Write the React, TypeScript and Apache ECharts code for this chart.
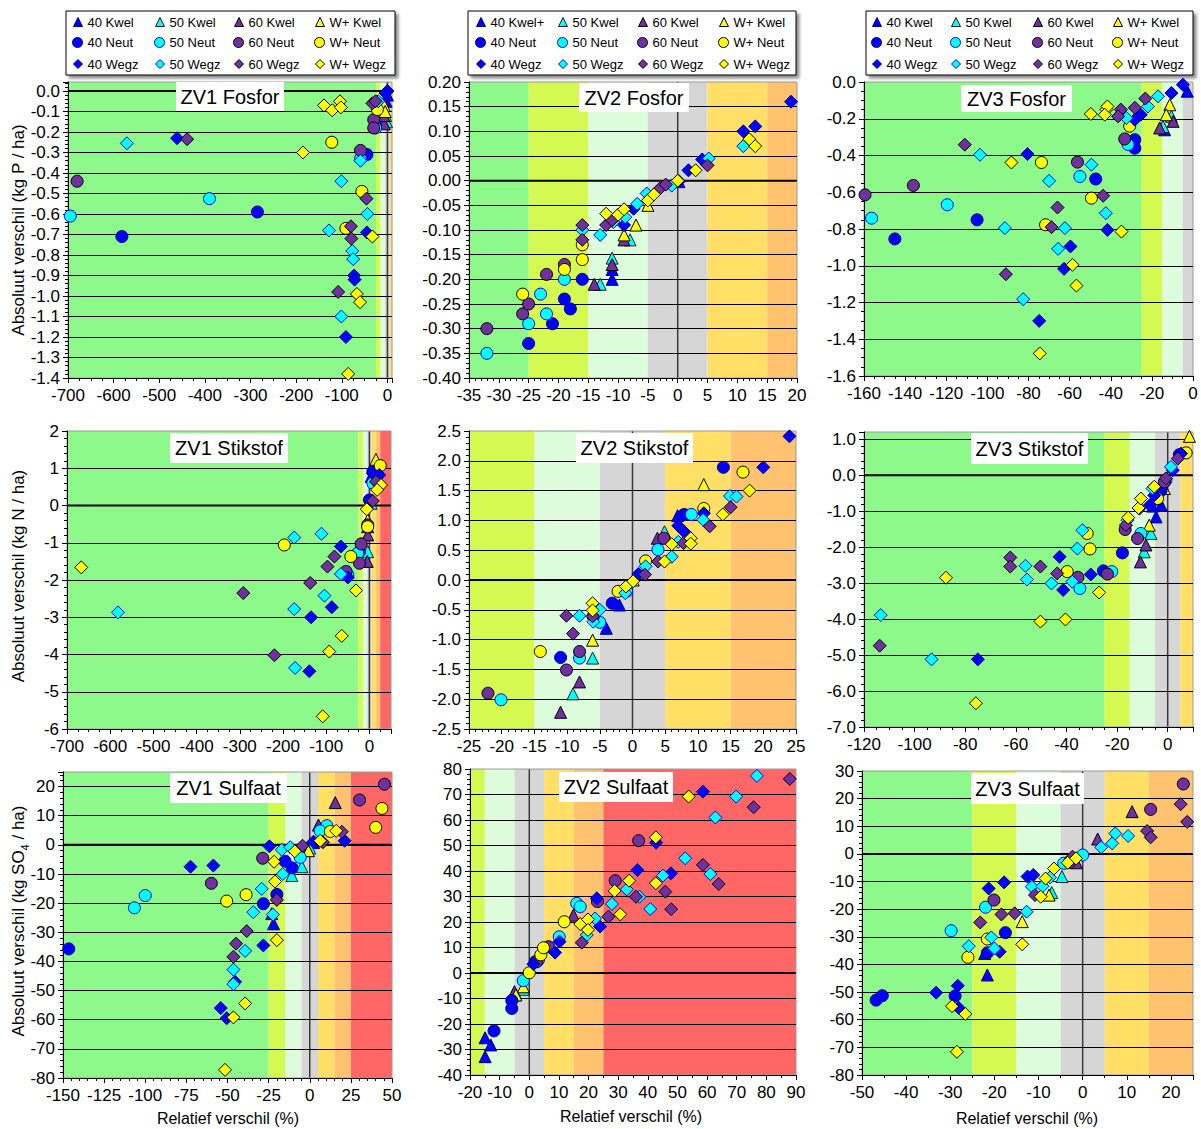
import React, { useEffect, useRef } from "react";
import * as echarts from "echarts";

const FONT = "'Liberation Sans', Arial, Helvetica, sans-serif";

type Pts = number[][];

// ---------- DATA: [relatief verschil (%), absoluut verschil] ----------
// k = Kwel (triangle), n = Neut (circle), w = Wegz (diamond); 40, 50, 60, W = W+
const zv1Fosfor = {
  k40: [[0, -0.02], [-3, -0.05]],
  k50: [[-4, -0.12], [-2, -0.15]],
  k60: [[-7, -0.16], [-8, -0.12]],
  kW: [[-7, -0.07], [-5, -0.1]],
  n40: [[-582, -0.71], [-285, -0.59], [-45, -0.31], [-26, -0.17]],
  n50: [[-695, -0.61], [-390, -0.525], [-26, -0.18], [-59, -0.33]],
  n60: [[-680, -0.44], [-59, -0.29], [-30, -0.14], [-30, -0.18]],
  nW: [[-122, -0.25], [-56, -0.49], [-91, -0.67], [-22, -0.09]],
  w40: [[-461, -0.23], [-45, -0.69], [-73, -0.9], [-72, -0.92], [-91, -1.2], [0, 0], [-4, -0.01]],
  w50: [[-571, -0.255], [-101, -0.44], [-128, -0.68], [-77, -0.78], [-75, -0.82], [-44, -0.6], [-101, -1.1], [-59, -0.34], [-20, -0.05]],
  w60: [[-439, -0.235], [-80, -0.66], [-79, -0.72], [-46, -0.525], [-108, -0.98], [-33, -0.06], [-26, -0.05]],
  wW: [[-139, -0.07], [-121, -0.094], [-104, -0.05], [-102, -0.08], [-185, -0.3], [-86, -1.38], [-67, -0.99], [-60, -1.03], [-33, -0.71]],
};

const zv2Fosfor = {
  k40: [[-11, -0.2], [-11, -0.18], [0.2, -0.002]],
  k50: [[-11, -0.157], [-13, -0.21], [-8, -0.12]],
  k60: [[-14, -0.21], [-11, -0.17], [-9, -0.12]],
  kW: [[-9, -0.11], [-7, -0.09], [-5, -0.05]],
  n40: [[-25, -0.33], [-21, -0.29], [-19, -0.24], [-18, -0.26], [-16, -0.2]],
  n50: [[-32, -0.35], [-25, -0.29], [-23, -0.23], [-22, -0.27], [-19, -0.2]],
  n60: [[-32, -0.3], [-26, -0.27], [-25, -0.25], [-22, -0.19], [-19, -0.17]],
  nW: [[-26, -0.23], [-19, -0.18], [-16, -0.16], [-16, -0.13]],
  w40: [[-9, -0.09], [-7.4, -0.057], [0.2, -0.001], [1.8, 0.021], [4.1, 0.043], [11, 0.1], [13, 0.11], [19, 0.16]],
  w50: [[-16, -0.1], [-13, -0.11], [-10.8, -0.084], [-8.8, -0.074], [-6.8, -0.047], [-5.2, -0.026], [-1, -0.01], [5.2, 0.045], [11, 0.07]],
  w60: [[-16, -0.09], [-16, -0.12], [-12, -0.09], [-11, -0.08], [-3, -0.016], [-2, -0.008], [5, 0.031]],
  wW: [[-12, -0.067], [-10, -0.069], [-9, -0.058], [-5, -0.04], [-4, -0.028], [0, 0], [3, 0.021], [12, 0.084], [13, 0.07]],
};

const zv3Fosfor = {
  k40: [[-2.8, -0.05], [-13.8, -0.26]],
  k50: [[-14.6, -0.242], [-10.5, -0.187]],
  k60: [[-16.2, -0.25], [-9.7, -0.214]],
  kW: [[-11.3, -0.124], [-13, -0.178]],
  n40: [[-145, -0.854], [-105, -0.75], [-47.3, -0.528], [-28.3, -0.314], [-28.3, -0.36]],
  n50: [[-156.3, -0.741], [-119.5, -0.668], [-55, -0.514], [-31.6, -0.34]],
  n60: [[-159.5, -0.614], [-136, -0.563], [-56.2, -0.436], [-33.2, -0.31]],
  nW: [[-73.7, -0.438], [-49.4, -0.632], [-71.7, -0.777], [-30.8, -0.24]],
  w40: [[-80.5, -0.392], [-59.6, -0.895], [-62.7, -1.017], [-74.8, -1.3], [-41.6, -0.805], [-25.4, -0.178], [-10.5, -0.06], [-4.9, -0.015], [-28.3, -0.205]],
  w50: [[-103.6, -0.396], [-70, -0.538], [-91.5, -0.795], [-62.3, -0.795], [-65.6, -0.908], [-82.6, -1.182], [-49.4, -0.45], [-42.4, -0.714], [-17, -0.078], [-21.9, -0.133], [-32.4, -0.196]],
  w60: [[-111, -0.341], [-65.9, -0.683], [-68.8, -0.79], [-91, -1.046], [-43.7, -0.619], [-35.1, -0.15], [-28.3, -0.14], [-23.2, -0.09], [-36.4, -0.187]],
  wW: [[-88.3, -0.438], [-49.7, -0.174], [-42.1, -0.15], [-41.6, -0.133], [-34.8, -0.814], [-58.6, -0.995], [-56.7, -1.108], [-74.5, -1.477], [-42.9, -0.178]],
};

const zv1Stikstof = {
  k40: [[4, 0.78], [-4, -0.57]],
  k50: [[-4, -1.24], [4, 0.06]],
  k60: [[-5, -1.5], [-4, -0.79]],
  kW: [[15, 1.24], [-4, -0.39]],
  n40: [[-23, -1.24], [8, 0.91], [0, 0.15]],
  n50: [[-27, -1.28], [-50, -1.86], [8, 0.6]],
  n60: [[-19, -1.03], [-23, -1.55], [-54, -1.77], [-4, -0.52]],
  nW: [[-197, -1.06], [-43, -1.37], [25, 1.07], [-4, -0.57]],
  w40: [[-135, -3], [-87, -2.73], [-66, -1.1], [-139, -4.45], [-50, -1.93], [8, 0.86], [23, 0.82]],
  w50: [[-582, -2.87], [-174, -0.86], [-111, -0.76], [-174, -2.78], [-104, -2.42], [-172, -4.36], [-66, -1.84]],
  w60: [[-292, -2.35], [-137, -2.08], [-97, -1.64], [-81, -1.37], [-220, -4.02], [8, 0.12], [15, 0.64]],
  wW: [[-667, -1.66], [-31, -2.28], [-64, -3.5], [-93, -3.92], [-108, -5.66], [-6, -0.1], [27, 0.55], [18, 0.42]],
};

const zv2Stikstof = {
  k40: [[-4, -0.81], [-2, -0.42], [6.9, 1.08]],
  k50: [[-9.1, -1.91], [-6.1, -1.31], [4.9, 0.81]],
  k60: [[-11, -2.22], [-8.1, -1.71], [3.8, 0.7]],
  kW: [[-6.1, -1.01], [10.9, 1.6], [0.1, 0]],
  n40: [[-11, -1.3], [-3.1, -0.39], [7.9, 1.1], [13.9, 1.89]],
  n50: [[-20.1, -2.01], [-8.1, -1.31], [-5, -0.71], [3.9, 0.51], [9, 1.1], [-0.9, -0.19]],
  n60: [[-22.1, -1.9], [-10.1, -1.51], [-8.1, -1.2], [4.8, 0.7], [-6, -0.61]],
  nW: [[-14.1, -1.2], [-2.2, -0.19], [2, 0.32], [10.9, 1.2], [16.9, 1.81]],
  w40: [[7, 0.91], [7.9, 0.81], [10.9, 1.12], [20, 1.89], [24, 2.41], [0.9, 0.1]],
  w50: [[-8.1, -0.6], [-6, -0.7], [-5, -0.5], [-1.1, -0.22], [2, 0.23], [6, 0.39], [10.8, 1.01], [14.9, 1.41], [15.9, 1.4], [7, 0.64]],
  w60: [[-10.1, -0.6], [-9.1, -0.9], [-6.1, -0.61], [1.9, 0.09], [3.9, 0.31], [7.8, 0.62], [11.8, 0.9], [15, 1.22]],
  wW: [[-6.1, -0.39], [-6.1, -0.51], [-1, -0.11], [0.1, -0.02], [4.9, 0.31], [6, 0.6], [8.9, 0.7], [8.9, 0.61], [13.8, 1.1], [17.9, 1.5]],
};

const zv3Stikstof = {
  k40: [[-4.6, -1.16], [-6, -0.86], [-2.6, -0.83]],
  k50: [[-6.6, -1.62], [-9.3, -2.13]],
  k60: [[-8.6, -1.94], [-10.8, -2.41]],
  kW: [[8.6, 1.08], [-7.3, -1.39], [-1.3, -0.37]],
  n40: [[-25.4, -2.66], [-17.9, -2.16], [4.6, 0.57], [-2.6, -0.42]],
  n50: [[-34.7, -3.15], [-22.1, -2.68], [-10.6, -1.62], [-0.7, -0.14]],
  n60: [[-35.5, -2.84], [-23.8, -2.75], [-16.8, -1.51], [-11.9, -1.76], [-1.3, -0.19]],
  nW: [[-31.8, -1.62], [-30.7, -2.05], [-39.7, -2.68], [7.3, 0.62], [-4, -0.65]],
  w40: [[-75, -5.12], [-42.7, -2.27], [-41.3, -3.19], [-30.4, -2.76], [-7, -0.83], [2, 0.14], [5.3, 0.6], [-5.3, -0.56]],
  w50: [[-113.4, -3.89], [-93.3, -5.12], [-56.2, -2.52], [-55.6, -2.9], [-45.9, -3.01], [-37.7, -2.96], [-35.7, -2.04], [-33.7, -1.53], [-15.9, -1.25], [-6, -0.37], [1.3, 0.23]],
  w60: [[-113.8, -4.74], [-62.2, -2.29], [-62.2, -2.54], [-50.3, -2.54], [-43.7, -2.73], [-16.5, -1.39], [-11.2, -0.93], [-0.7, -0.09], [4, 0.46]],
  wW: [[-87.6, -2.85], [-75.8, -6.34], [-50.3, -4.07], [-40.4, -4.01], [-27.1, -3.26], [-15.6, -1.18], [-11.5, -0.91], [-10.6, -0.65], [-5.3, -0.32]],
};

const zv1Sulfaat = {
  k40: [[-22, -27.1], [-23.1, -23.6], [2.3, 0.8]],
  k50: [[-10.9, -10.5], [-4.8, -7.5], [0, -1.1]],
  k60: [[15.5, 14.5], [5.3, 6.8], [-1.8, -1.2]],
  kW: [[6.3, 2], [-0.8, -2]],
  n40: [[-146.5, -35.7], [-28.2, -20.2], [-20, -17], [-10.7, -7.9], [-15, -5.6]],
  n50: [[-106.6, -21.6], [-100, -17.4], [10.4, 6.6], [6.3, 4.8], [-5.8, -4.3]],
  n60: [[-59.8, -13.2], [-28.6, -4.6], [30.3, 15.4], [45.4, 20.8]],
  nW: [[-50.5, -19.3], [-38.7, -17.1], [12.5, 4.6], [40.1, 6], [43.9, 12.5]],
  w40: [[-72.5, -7.5], [-58.6, -7.1], [-24.5, -0.5], [-28.2, -34.5], [-54.1, -56], [-50.5, -59.5], [-45.4, -47], [21.2, 1.4], [2.3, 1.1]],
  w50: [[-29.2, -15.1], [-34.3, -23.1], [-39.3, -36.4], [-46.4, -42.8], [-46.4, -47.8], [-22.4, -23.9], [-16.4, -10], [-17, -1.7], [-11.9, -0.8]],
  w60: [[-44.8, -33.9], [-46.4, -38.4], [-38.3, -29.6], [-20, -18.9], [-4.4, -0.3], [8, 0.9], [19.5, 4.5]],
  wW: [[-21.7, -5.8], [-21.1, -12.6], [-20, -32.7], [-39.3, -54.4], [-46.4, -59.2], [-51.5, -77.2], [-9.1, -2.2], [6.3, 1.4], [16.1, 4.8]],
};

const zv2Sulfaat = {
  k40: [[-14.9, -25.4], [-13, -28.2], [-14.9, -32.8]],
  k50: [[-2, -6.4], [-4.8, -8.6]],
  k60: [[14.9, 22.7], [-5, -7.3]],
  kW: [[-4.5, -8.6], [-2, -5.4]],
  n40: [[-11.9, -22.7], [-5.9, -10.8], [-5.9, -13.9], [2, 4.4]],
  n50: [[-2, -3], [10.1, 14.2], [16, 27.3], [17.2, 26], [3.1, 5.1]],
  n60: [[2.5, 4.4], [23, 28], [29, 36.2], [36.9, 51.9], [6.5, 10.3]],
  nW: [[0, 0.1], [3.9, 7.1], [4.8, 9.9], [11.8, 20.1]],
  w40: [[8.7, 8], [10.2, 12.3], [22.8, 29.3], [23.9, 18.2], [36.5, 40.4], [42.8, 51.1], [47.8, 39.1], [58.6, 71.1], [1.4, 3.5]],
  w50: [[19.4, 14.9], [22.2, 21.4], [27.9, 27.1], [32.9, 32.8], [37.2, 29.9], [40.8, 25.1], [45.1, 38.2], [52.6, 45], [61.1, 38.8], [62.8, 61], [69.8, 69.2], [76.8, 77.3]],
  w60: [[17.7, 11.9], [26.7, 22.1], [36, 29.9], [45.9, 31.9], [47.9, 25], [58.6, 42.4], [63.9, 34.9], [75.7, 65], [87.9, 76.1]],
  wW: [[17.2, 19.2], [19.8, 21], [19.8, 16.9], [28.8, 32.2], [30.7, 23], [33.7, 36.2], [42.7, 53.2], [42.7, 35.2], [53.8, 69.2]],
};

const zv3Sulfaat = {
  k40: [[-21.6, -43.8], [-22.2, -36]],
  k50: [[-4.7, -8.2], [-7, -14]],
  k60: [[11.2, 15.3], [3.4, 5.4], [-1.4, -3.2]],
  kW: [[-13.7, -24.5], [-7.6, -14.9]],
  n40: [[-46.8, -52.9], [-45.4, -51.3], [-28.9, -51.4], [-21.6, -35.8], [-17.5, -28.5]],
  n50: [[-29.8, -27.8], [-22, -19.3], [0, -0.4], [-4.3, -3.4]],
  n60: [[-20.1, -16.7], [15.4, 16.1], [22.8, 25.3], [-3, -3.1]],
  nW: [[-26, -37.4], [-21.6, -30.8]],
  w40: [[-33.2, -50.2], [-28.3, -47.7], [-28.1, -55.7], [-21.3, -12.5], [-17.8, -10.3], [-18.8, -35.4], [-12.5, -8.2], [-11.2, -7.6]],
  w50: [[-25.8, -33.4], [-20.7, -30.2], [-20, -34.2], [-12.7, -20.9], [-11.5, -11.9], [-9.1, -11.7], [-7.4, -8.5], [4.2, 2.4], [6.7, 3.8], [7.4, 7.4], [10.3, 6.5]],
  w60: [[-23.2, -24.8], [-18.4, -21.9], [-15.4, -21.5], [-10.8, -14.9], [-2.3, -1], [14.6, 8.3], [15.4, 6], [22.2, 18], [23.7, 11.6]],
  wW: [[-29.6, -55.1], [-26.6, -57.9], [-28.5, -71.6], [-13.7, -32.7], [-9.5, -15.5], [-8.4, -8.9], [-6.5, -5.3], [-3.4, -3.2], [-1.5, -1.6]],
};

// class boundaries of the relative difference (%) and their colours
const BAND_EDGES = [-1e6, -25, -15, -5, 5, 15, 25, 1e6];
const BAND_COLORS = ["#8CF98A", "#D4F950", "#DCFCDC", "#D6D6D6", "#FFDF66", "#FFC370", "#FF6666"];

const GROUPS = [
  { key: "40", label: "40" },
  { key: "50", label: "50" },
  { key: "60", label: "60" },
  { key: "W", label: "W+" },
];
const SHAPES = [
  { key: "k", word: "Kwel", symbol: "triangle", size: 12 },
  { key: "n", word: "Neut", symbol: "circle", size: 12 },
  { key: "w", word: "Wegz", symbol: "diamond", size: 13 },
];
const FILL: Record<string, string> = { "40": "#0000FF", "50": "#00FFFF", "60": "#7030A0", W: "#FFFF00" };
const border = (g: string, s: string) =>
  g === "40" ? "#000090" : g === "50" ? (s === "k" ? "#202020" : "#0000FF") : "#000000";

const PANELS = [
  { title: "ZV1 Fosfor", data: zv1Fosfor, box: [68, 82, 392, 378], xr: [-700, 10, 100, 4], yr: [-1.4, 0.044, 0.1, 5], yDec: 1, tb: [176, 82, 108, 29], plus: false },
  { title: "ZV2 Fosfor", data: zv2Fosfor, box: [469, 82, 797, 378], xr: [-35, 20, 5, 5], yr: [-0.4, 0.2, 0.05, 5], yDec: 2, tb: [579, 83, 110, 29], plus: true },
  { title: "ZV3 Fosfor", data: zv3Fosfor, box: [864, 82, 1193, 376], xr: [-160, 0, 20, 4], yr: [-1.6, 0, 0.2, 4], yDec: 1, tb: [961, 85, 111, 27], plus: false },
  { title: "ZV1 Stikstof", data: zv1Stikstof, box: [67, 431, 391, 729], xr: [-700, 50, 100, 4], yr: [-6, 2, 1, 5], yDec: 0, tb: [170, 433, 118, 30], plus: false },
  { title: "ZV2 Stikstof", data: zv2Stikstof, box: [469, 431, 796, 729], xr: [-25, 25, 5, 5], yr: [-2.5, 2.5, 0.5, 5], yDec: 1, tb: [576, 433, 117, 30], plus: false },
  { title: "ZV3 Stikstof", data: zv3Stikstof, box: [864, 432, 1193, 727], xr: [-120, 10, 20, 4], yr: [-7, 1.2, 1, 5], yDec: 1, tb: [971, 433, 117, 31], plus: false },
  { title: "ZV1 Sulfaat", data: zv1Sulfaat, box: [63, 772, 392, 1078], xr: [-150, 50, 25, 5], yr: [-80, 25, 10, 5], yDec: 0, tb: [170, 773, 117, 30], plus: false },
  { title: "ZV2 Sulfaat", data: zv2Sulfaat, box: [470, 769, 796, 1075], xr: [-20, 90, 10, 2], yr: [-40, 80, 10, 5], yDec: 0, tb: [559, 772, 114, 30], plus: false },
  { title: "ZV3 Sulfaat", data: zv3Sulfaat, box: [862, 771, 1193, 1075], xr: [-50, 25, 10, 2], yr: [-80, 30, 10, 5], yDec: 0, tb: [971, 773, 113, 31], plus: false },
];

// legend layout
const LEGEND_BOXES = [
  [66, 11, 329, 64],
  [468, 11, 328, 64],
  [866, 11, 327, 64],
];
const LEGEND_TEXT_X = [
  [86, 168, 247, 328],
  [489, 571, 651, 732],
  [885, 964, 1046, 1126],
];
const LEGEND_ROW_Y = [23, 43.5, 65];

const Y_TITLES = [
  { y: 230, text: "Absoluut verschil (kg P / ha)" },
  { y: 576, text: "Absoluut verschil (kg N / ha)" },
];
const X_TITLES = [
  [228, 1118],
  [631, 1116],
  [1027, 1118],
];

const seriesName = (g: { key: string; label: string }, s: { word: string }, plus: boolean) =>
  `${g.label} ${s.word}${plus && g.key === "40" && s.word === "Kwel" ? "+" : ""}`;

function fmt(interval: number, dec: number) {
  return (v: number) => {
    const k = Math.round(v / interval);
    if (Math.abs(k * interval - v) > interval * 1e-6) return "";
    let r = k * interval;
    if (Math.abs(r) < 1e-9) r = 0;
    return r.toFixed(dec);
  };
}

function buildOption() {
  const grid: any[] = [];
  const xAxis: any[] = [];
  const yAxis: any[] = [];
  const series: any[] = [];
  const graphic: any[] = [];
  const legend: any[] = [];

  PANELS.forEach((p, i) => {
    const [l, t, r, b] = p.box;
    const [xmin, xmax, xint, xminor] = p.xr;
    const [ymin, ymax, yint, yminor] = p.yr;
    grid.push({ left: l, top: t, width: r - l, height: b - t, show: true, borderColor: "#9a9a9a", borderWidth: 1, backgroundColor: "transparent", containLabel: false });
    const common = {
      gridIndex: i,
      type: "value",
      axisLine: { show: true, onZero: false, lineStyle: { color: "#000", width: 1 } },
      axisTick: { show: true, length: 5, inside: false, lineStyle: { color: "#000", width: 1 } },
      splitArea: { show: false },
    };
    xAxis.push({
      ...common,
      min: xmin, max: xmax, interval: xint,
      minorTick: { show: true, splitNumber: xminor, length: 3, lineStyle: { color: "#000" } },
      splitLine: { show: false },
      axisLabel: { fontSize: 17, color: "#000", fontFamily: FONT, margin: 9, formatter: fmt(xint, 0) },
    });
    yAxis.push({
      ...common,
      min: ymin, max: ymax, interval: yint,
      minorTick: { show: true, splitNumber: yminor, length: 3, lineStyle: { color: "#000" } },
      splitLine: { show: true, showMinLine: false, showMaxLine: false, lineStyle: { color: "#000", width: 1 } },
      axisLabel: { fontSize: 17, color: "#000", fontFamily: FONT, margin: 8, formatter: fmt(yint, p.yDec) },
    });

    // background classes and zero lines
    const items: number[][] = [];
    for (let k = 0; k < BAND_COLORS.length; k++) {
      const from = Math.max(BAND_EDGES[k], xmin);
      const to = Math.min(BAND_EDGES[k + 1], xmax);
      if (to > from) items.push([0, from, to, k]);
    }
    if (xmin < 0 && xmax > 0) items.push([1, 0, 0, 0]);
    if (ymin < 0 && ymax > 0) items.push([2, 0, 0, 0]);
    series.push({
      type: "custom",
      name: "klassen" + i,
      xAxisIndex: i,
      yAxisIndex: i,
      silent: true,
      z: -1,
      data: items,
      renderItem: (params: any, api: any) => {
        const cs = params.coordSys;
        const kind = api.value(0);
        if (kind === 0) {
          const x1 = api.coord([api.value(1), 0])[0];
          const x2 = api.coord([api.value(2), 0])[0];
          return { type: "rect", shape: { x: x1, y: cs.y, width: x2 - x1, height: cs.height }, style: { fill: BAND_COLORS[api.value(3)] } };
        }
        if (kind === 1) {
          const x0 = api.coord([0, 0])[0];
          return { type: "line", shape: { x1: x0, y1: cs.y, x2: x0, y2: cs.y + cs.height }, style: { stroke: "#3a3a3a", lineWidth: 1.5 } };
        }
        const y0 = api.coord([0, 0])[1];
        return { type: "line", shape: { x1: cs.x, y1: y0, x2: cs.x + cs.width, y2: y0 }, style: { stroke: "#000", lineWidth: 2 } };
      },
    });

    SHAPES.forEach((s) => {
      GROUPS.forEach((g) => {
        const data = (p.data as Record<string, Pts>)[s.key + g.key];
        series.push({
          type: "scatter",
          name: seriesName(g, s, p.plus),
          xAxisIndex: i,
          yAxisIndex: i,
          data,
          symbol: s.symbol,
          symbolSize: s.size,
          silent: true,
          z: 3,
          itemStyle: { color: FILL[g.key], borderColor: border(g.key, s.key), borderWidth: 1, opacity: 1 },
        });
      });
    });

    // title box
    const [tx, ty, tw, th] = p.tb;
    graphic.push({ type: "rect", z: 20, shape: { x: tx, y: ty, width: tw, height: th }, style: { fill: "#fff" } });
    graphic.push({
      type: "text", z: 21, x: tx + tw / 2, y: ty + th / 2,
      style: { text: p.title, fontSize: 20, fontFamily: FONT, fill: "#000", align: "center", verticalAlign: "middle" },
    });
  });

  // legends (one frame per column, one component per entry so the columns line up)
  LEGEND_BOXES.forEach((bx, bi) => {
    graphic.push({
      type: "rect", z: 1,
      shape: { x: bx[0], y: bx[1], width: bx[2], height: bx[3] },
      style: { fill: "#fff", stroke: "#000", lineWidth: 1, shadowBlur: 3, shadowOffsetX: 3, shadowOffsetY: 3, shadowColor: "rgba(0,0,0,0.45)" },
    });
    SHAPES.forEach((s, ri) => {
      GROUPS.forEach((g, ci) => {
        const iw = s.symbol === "circle" ? 10 : 9;
        legend.push({
          z: 5,
          left: LEGEND_TEXT_X[bi][ci] - iw - 4,
          top: LEGEND_ROW_Y[ri] - 7.5,
          padding: 0,
          itemWidth: iw,
          itemHeight: iw,
          itemGap: 0,
          selectedMode: false,
          itemStyle: { borderWidth: 1 },
          textStyle: { fontSize: 13, color: "#000", fontFamily: FONT },
          data: [{ name: seriesName(g, s, bi === 1), icon: s.symbol }],
        });
      });
    });
  });

  // axis titles
  Y_TITLES.forEach((yt) => {
    graphic.push({
      type: "text", z: 21, x: 18, y: yt.y, rotation: Math.PI / 2,
      style: { text: yt.text, fontSize: 17, fontFamily: FONT, fill: "#000", align: "center", verticalAlign: "middle" },
    });
  });
  graphic.push({
    type: "text", z: 21, x: 18, y: 921, rotation: Math.PI / 2,
    style: {
      text: "{a|Absoluut verschil (kg SO}{b|4}{a| / ha)}",
      align: "center", verticalAlign: "middle",
      rich: {
        a: { fontSize: 17, fontFamily: FONT, fill: "#000", lineHeight: 24, verticalAlign: "middle" },
        b: { fontSize: 11, fontFamily: FONT, fill: "#000", lineHeight: 12, verticalAlign: "bottom" },
      },
    },
  });
  X_TITLES.forEach(([x, y]) => {
    graphic.push({
      type: "text", z: 21, x, y,
      style: { text: "Relatief verschil (%)", fontSize: 16, fontFamily: FONT, fill: "#000", align: "center", verticalAlign: "middle" },
    });
  });

  return {
    animation: false,
    backgroundColor: "#fff",
    textStyle: { fontFamily: FONT },
    grid,
    xAxis,
    yAxis,
    legend,
    series,
    graphic: { elements: graphic },
  };
}

export default function App() {
  const ref = useRef<HTMLDivElement>(null);
  useEffect(() => {
    if (!ref.current) return;
    const chart = echarts.init(ref.current, undefined, { renderer: "svg" });
    chart.setOption(buildOption() as any);
    return () => chart.dispose();
  }, []);
  return (
    <div
      ref={ref}
      style={{ position: "fixed", left: 0, top: 0, width: 1201, height: 1129, background: "#fff" }}
    />
  );
}
